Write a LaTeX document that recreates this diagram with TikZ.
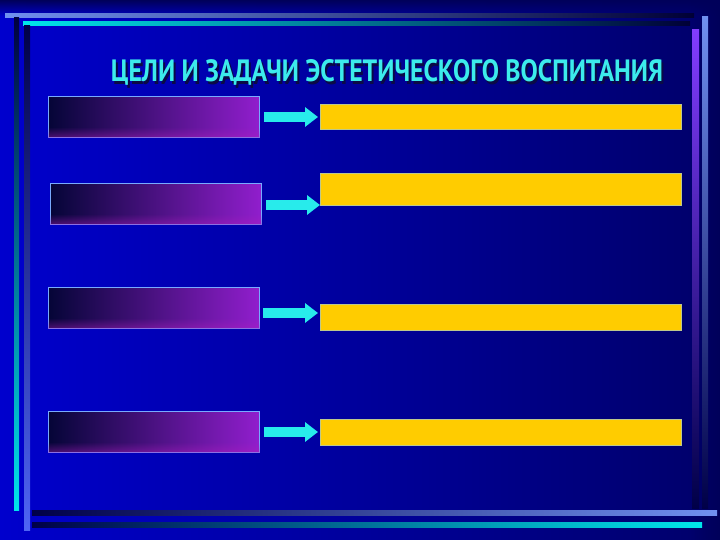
\documentclass[tikz,border=0pt]{standalone}
\usepackage{fontspec}
\setmainfont{PT Sans}
\usetikzlibrary{fadings,arrows.meta}
\definecolor{bgL}{RGB}{0,0,205}
\definecolor{bgM}{RGB}{0,0,175}
\definecolor{bgR}{RGB}{0,0,105}
\definecolor{navy}{RGB}{0,0,90}
\definecolor{ltblue}{RGB}{112,144,240}
\definecolor{cyanl}{RGB}{0,230,235}
\definecolor{purp}{RGB}{130,60,255}
\definecolor{boxedge}{RGB}{120,170,255}
\definecolor{gL}{RGB}{5,5,55}
\definecolor{gM}{RGB}{35,55,190}
\definecolor{gR}{RGB}{145,30,205}
\definecolor{tint}{RGB}{170,30,190}
\definecolor{yel}{RGB}{255,204,0}
\definecolor{yedge}{RGB}{190,200,140}
\definecolor{arr}{RGB}{40,235,235}
\definecolor{titlec}{RGB}{60,235,235}
\definecolor{shad}{RGB}{10,10,70}
\begin{document}
\begin{tikzpicture}[x=1pt,y=-1pt,
  gradbox/.style={draw=boxedge, line width=0.8pt, left color=gL, middle color=gM, right color=gR,
    minimum width=211pt, minimum height=41pt, inner sep=0pt, anchor=north west},
  yelbox/.style={draw=yedge, line width=0.6pt, fill=yel, inner sep=0pt, anchor=north west},
  arrowst/.style={draw=arr, line width=10pt, -{Triangle[length=13pt,width=19pt]}},
  titletext/.style={inner sep=0pt, anchor=base}]
\useasboundingbox (0,0) rectangle (720,540);
% background
\shade[left color=bgL, middle color=bgM, right color=bgR] (0,0) rectangle (720,540);
\fill[navy, path fading=south] (0,0) rectangle (720,16);
\fill[navy, path fading=west] (690,0) rectangle (720,540);
% frame lines
\shade[left color=ltblue, right color=navy!60!black] (5,14) rectangle (694,18);
\shade[left color=cyanl, right color=navy!60!black] (23,22) rectangle (690,26);
\shade[top color=navy!70!black, bottom color=cyanl] (14,18) rectangle (19,510);
\shade[top color=navy!80!black, bottom color=ltblue!70!blue] (24,26) rectangle (30,530);
\shade[left color=navy!80!black, right color=ltblue] (32,510) rectangle (717,515);
\shade[left color=navy!80!black, right color=cyanl] (32,522) rectangle (702,527);
\shade[top color=purp, bottom color=navy!80!black] (692,30) rectangle (699,508);
\shade[top color=ltblue, bottom color=navy!80!black] (702,17) rectangle (708,508);
% title
\node[titletext, text=shad] at (389,85) {\resizebox{552pt}{22pt}{\fontsize{30}{30}\selectfont\bfseries ЦЕЛИ И ЗАДАЧИ ЭСТЕТИЧЕСКОГО ВОСПИТАНИЯ}};
\node[titletext, text=titlec] (title) at (387,82) {\resizebox{552pt}{22pt}{\fontsize{30}{30}\selectfont\bfseries ЦЕЛИ И ЗАДАЧИ ЭСТЕТИЧЕСКОГО ВОСПИТАНИЯ}};
% left boxes
\node[gradbox] (b1) at (48,96) {};
\node[gradbox] (b2) at (50,183) {};
\node[gradbox] (b3) at (48,287) {};
\node[gradbox] (b4) at (48,411) {};
\foreach \b in {b1,b2,b3,b4}
  \fill[tint, path fading=north, fill opacity=0.45] (\b.south west) rectangle ([yshift=-10pt]\b.east);
% yellow boxes
\node[yelbox, minimum width=361pt, minimum height=25pt] (y1) at (320,104) {};
\node[yelbox, minimum width=361pt, minimum height=32pt] (y2) at (320,173) {};
\node[yelbox, minimum width=361pt, minimum height=26pt] (y3) at (320,304) {};
\node[yelbox, minimum width=361pt, minimum height=26pt] (y4) at (320,419) {};
% arrows
\coordinate (a1) at (264,117);
\coordinate (a2) at (266,205);
\coordinate (a3) at (263,313);
\coordinate (a4) at (264,432);
\draw[arrowst] (a1) -- ([xshift=-2pt]a1 -| y1.west);
\draw[arrowst] (a2) -- (a2 -| y2.west);
\draw[arrowst] (a3) -- ([xshift=-2pt]a3 -| y3.west);
\draw[arrowst] (a4) -- ([xshift=-2pt]a4 -| y4.west);
\end{tikzpicture}
\end{document}
